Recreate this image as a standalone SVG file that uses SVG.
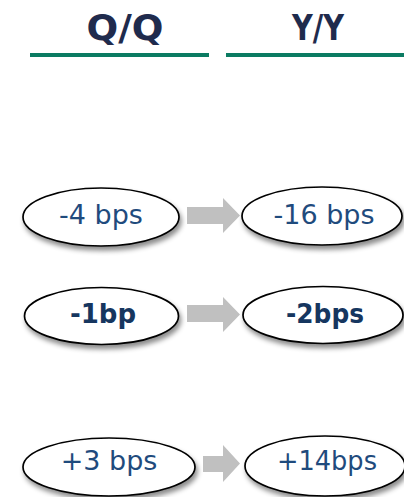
<svg xmlns="http://www.w3.org/2000/svg" width="404" height="497" viewBox="0 0 404 497">
<defs>
<filter id="sh" x="-20%" y="-30%" width="140%" height="170%">
<feDropShadow dx="2" dy="4" stdDeviation="2.5" flood-color="#000" flood-opacity="0.45"/>
</filter>
<style>
.hdr{font-family:"DejaVu Sans",sans-serif;font-weight:bold;font-size:36px;fill:#1f2b4d;text-anchor:middle}
.bar{stroke:#0b7b62;stroke-width:4}
.node ellipse{fill:#fff;stroke:#000;stroke-width:1.7;filter:url(#sh)}
.lbl{font-family:"DejaVu Sans",sans-serif;font-size:27px;fill:#1f4b7d;text-anchor:middle}
.b{font-weight:bold;fill:#16365f;font-size:26px}
.arr{fill:#c0c0c0}
</style>
</defs>
<g id="header">
<text class="hdr" x="125" y="40" textLength="77" lengthAdjust="spacingAndGlyphs">Q/Q</text>
<text class="hdr" x="318" y="40" textLength="52" lengthAdjust="spacingAndGlyphs">Y/Y</text>
<line class="bar" x1="30" y1="55" x2="209" y2="55"/>
<line class="bar" x1="226" y1="55" x2="404" y2="55"/>
</g>
<g id="connectors">
<polygon class="arr" points="187,207 223,207 223,198 240,215.5 223,233 223,224 187,224"/>
<polygon class="arr" points="187,305 223,305 223,297 240,314.5 223,332 223,322 187,322"/>
<polygon class="arr" points="203,456 223,456 223,445 240,463.5 223,482 223,472 203,472"/>
</g>
<g id="n1" class="node"><ellipse cx="101" cy="217" rx="78" ry="29"/><text class="lbl" x="101" y="224">-4 bps</text></g>
<g id="n2" class="node"><ellipse cx="322" cy="216" rx="80" ry="29"/><text class="lbl" x="324" y="224">-16 bps</text></g>
<g id="n3" class="node"><ellipse cx="101.5" cy="316" rx="77" ry="28.5"/><text class="lbl b" x="103" y="323">-1bp</text></g>
<g id="n4" class="node"><ellipse cx="323" cy="315" rx="80" ry="28.5"/><text class="lbl b" x="325" y="323" textLength="78" lengthAdjust="spacingAndGlyphs">-2bps</text></g>
<g id="n5" class="node"><ellipse cx="109" cy="467" rx="86" ry="29"/><text class="lbl" x="109" y="470">+3 bps</text></g>
<g id="n6" class="node"><ellipse cx="325" cy="466" rx="80" ry="30"/><text class="lbl" x="327" y="470" textLength="100" lengthAdjust="spacingAndGlyphs">+14bps</text></g>
</svg>
